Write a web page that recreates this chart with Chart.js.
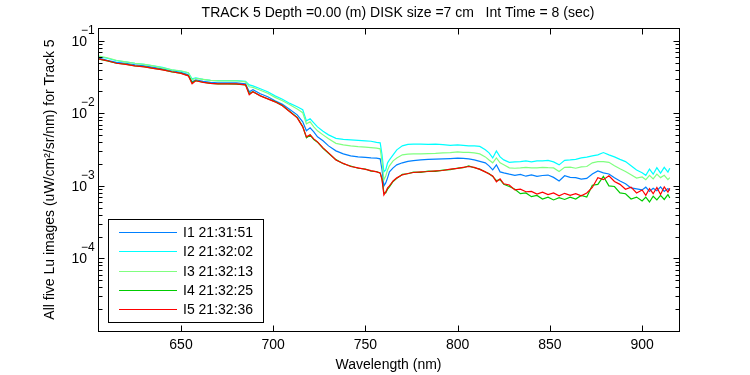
<!DOCTYPE html>
<html>
<head>
<meta charset="utf-8">
<script src="https://cdn.jsdelivr.net/npm/chart.js@4.4.1/dist/chart.umd.min.js"></script>
<style>
  body { margin: 0; background: #fff; }
  canvas { display: block; }
</style>
</head>
<body>
<canvas id="chart" width="750" height="375"></canvas>
<script>
// Wavelength (nm), shared by the five spectra
const WAVELENGTH = [605, 610, 615, 620, 625, 630, 635, 640, 645, 650,
  654, 656, 658, 662, 666, 670,
  675, 680, 685, 687, 689,
  693, 697, 701, 705, 709, 713,
  716, 718, 720, 722, 724, 727, 730,
  734, 738, 742, 746, 750,
  753, 756, 758, 759, 760, 761, 762, 763, 765, 767,
  770, 773, 776, 780, 784, 788, 792, 796, 800,
  803, 806, 809, 812, 815, 817, 819, 821, 823, 825,
  828, 831, 834, 837, 840, 843, 846, 849, 852, 855,
  858, 861, 864, 867, 870, 873, 876, 879, 882, 885,
  888, 891, 894, 897, 900,
  902, 904, 906, 908, 910, 912, 914, 915];

// Lu values, in units of 1e-3 uW/cm2/sr/nm
const I1 = [58.3, 53.9, 50.5, 49.0, 46.7, 45.2, 43.1, 41.1, 38.6, 36.8,
  34.0, 27.2, 29.0, 27.6, 26.7, 26.3,
  26.3, 26.3, 25.5, 19.8, 21.1,
  18.6, 16.9, 14.9, 13.3, 11.3, 9.54,
  7.64, 5.74, 6.31, 5.56, 4.74, 4.18, 3.56,
  3.04, 2.76, 2.59, 2.51, 2.47,
  2.43, 2.41, 2.36, 1.66, 1.00, 1.10, 1.29, 1.56, 1.77, 1.95,
  2.08, 2.18, 2.23, 2.28, 2.32, 2.34, 2.36, 2.38, 2.41,
  2.39, 2.36, 2.28, 2.18, 2.08, 1.89, 1.66, 1.95, 1.56, 1.51,
  1.45, 1.40, 1.44, 1.36, 1.42, 1.35, 1.39, 1.41, 1.31, 1.17,
  1.38, 1.31, 1.30, 1.24, 1.27, 1.46, 1.61, 1.51, 1.46, 1.29,
  1.17, 1.07, 0.938, 0.909, 0.881,
  0.96, 0.84, 0.93, 0.86, 0.97, 0.84, 0.92, 0.86];

const I2 = [61.1, 57.4, 53.0, 51.3, 49.0, 47.4, 45.2, 43.1, 39.8, 38.0,
  36.2, 29.9, 30.9, 29.4, 28.5, 28.3,
  28.3, 28.3, 27.6, 24.7, 23.9,
  21.8, 19.8, 17.4, 15.6, 13.7, 12.3,
  11.2, 7.88, 8.40, 7.40, 6.51, 5.65, 5.05,
  4.52, 4.38, 4.31, 4.25, 4.18,
  4.12, 3.98, 3.92, 2.68, 1.56, 1.66, 2.08, 2.28, 2.68, 3.14,
  3.56, 3.74, 3.76, 3.76, 3.74, 3.76, 3.71, 3.62, 3.68,
  3.62, 3.56, 3.56, 3.50, 3.14, 2.85, 2.43, 3.04, 2.51, 2.28,
  2.11, 2.14, 2.16, 2.21, 2.14, 2.21, 2.21, 2.25, 2.14, 1.95,
  2.25, 2.28, 2.32, 2.43, 2.49, 2.59, 2.68, 2.88, 2.68, 2.51,
  2.32, 2.16, 1.89, 1.66, 1.52,
  1.40, 1.70, 1.45, 1.78, 1.50, 1.80, 1.55, 1.75];

const I3 = [62.1, 58.3, 53.9, 51.3, 49.0, 47.4, 45.2, 42.4, 39.8, 38.6,
  36.2, 29.0, 30.4, 29.4, 28.5, 28.1,
  28.1, 28.1, 27.2, 23.2, 22.8,
  20.8, 18.9, 16.6, 14.9, 13.1, 11.5,
  10.2, 7.16, 7.64, 6.51, 5.74, 5.05, 4.45,
  3.86, 3.68, 3.56, 3.48, 3.42,
  3.36, 3.31, 3.24, 2.14, 1.21, 1.37, 1.66, 1.89, 2.21, 2.43,
  2.68, 2.74, 2.76, 2.76, 2.79, 2.80, 2.85, 2.88, 2.94,
  2.89, 2.89, 2.85, 2.76, 2.51, 2.28, 2.08, 2.43, 2.08, 1.95,
  1.77, 1.75, 1.77, 1.80, 1.77, 1.77, 1.80, 1.78, 1.77, 1.58,
  1.80, 1.81, 1.75, 1.83, 1.85, 2.08, 2.16, 2.16, 2.11, 1.89,
  1.72, 1.58, 1.42, 1.28, 1.33,
  1.22, 1.40, 1.25, 1.45, 1.30, 1.40, 1.22, 1.30];

const I4 = [56.2, 52.8, 49.0, 47.6, 45.0, 44.0, 41.6, 40.0, 37.2, 35.8,
  33.0, 26.5, 28.3, 26.8, 25.8, 25.5,
  25.5, 25.3, 24.6, 18.8, 19.9,
  17.5, 15.9, 14.5, 12.8, 10.6, 8.8,
  6.6, 4.6, 5.0, 4.35, 4.0, 3.3, 2.82,
  2.30, 2.02, 1.88, 1.75, 1.71,
  1.60, 1.58, 1.50, 1.25, 0.80, 0.80, 0.90, 0.97, 1.15, 1.27,
  1.44, 1.47, 1.55, 1.54, 1.60, 1.59, 1.65, 1.68, 1.76,
  1.78, 1.88, 1.78, 1.70, 1.55, 1.48, 1.35, 1.18, 1.22, 1.05,
  0.98, 0.90, 0.78, 0.80, 0.71, 0.74, 0.66, 0.70, 0.64, 0.69,
  0.65, 0.70, 0.66, 0.74, 0.70, 1.02, 1.05, 1.35, 1.00, 0.98,
  0.80, 0.78, 0.66, 0.70, 0.62,
  0.70, 0.60, 0.72, 0.64, 0.74, 0.65, 0.76, 0.68];

const I5 = [56.5, 53.0, 49.0, 47.4, 45.2, 43.8, 41.7, 39.8, 37.4, 35.6,
  32.9, 25.5, 28.1, 26.7, 25.9, 25.5,
  25.4, 25.4, 24.7, 18.0, 19.8,
  17.4, 15.8, 14.4, 12.7, 10.5, 8.67,
  6.51, 4.74, 5.05, 4.45, 4.05, 3.34, 2.85,
  2.28, 2.04, 1.85, 1.77, 1.69,
  1.62, 1.56, 1.51, 1.21, 0.751, 0.826, 0.938, 1.00, 1.17, 1.29,
  1.42, 1.48, 1.53, 1.56, 1.58, 1.61, 1.63, 1.70, 1.74,
  1.80, 1.85, 1.80, 1.69, 1.56, 1.46, 1.37, 1.14, 1.25, 1.07,
  1.03, 0.88, 0.90, 0.83, 0.84, 0.77, 0.82, 0.76, 0.80, 0.73,
  0.79, 0.74, 0.78, 0.73, 0.80, 0.95, 1.30, 1.22, 1.38, 1.15,
  1.05, 0.90, 0.96, 0.80, 0.88,
  0.74, 0.92, 0.78, 0.95, 0.76, 0.97, 0.82, 0.93];

const UNIT = 1e-3;
const LABELS = ['I1 21:31:51', 'I2 21:32:02', 'I3 21:32:13', 'I4 21:32:25', 'I5 21:32:36'];
const COLORS = ['#0080ff', '#00ffff', '#80ff80', '#00cc00', '#ff0000'];

const X_TICKS = [650, 700, 750, 800, 850, 900];
const Y_TICKS = [1e-4, 1e-3, 1e-2, 1e-1];
const Y_TICK_EXP = ['\u22124', '\u22123', '\u22122', '\u22121'];

const TITLE = 'TRACK 5 Depth =0.00 (m) DISK size =7 cm   Int Time = 8 (sec)';
const FONT = '"Liberation Sans", Arial, Helvetica, sans-serif';

function toPoints(values) {
    return WAVELENGTH.map((w, i) => ({x: w, y: values[i] * UNIT}));
}

// axes box, inward ticks, 10^n labels, legend box and title (MATLAB look)
const matlabAxes = {
    id: 'matlabAxes',
    afterDraw(chart) {
        const ctx = chart.ctx;
        const a = chart.chartArea;
        const xs = chart.scales.x;
        const ys = chart.scales.y;
        const L = Math.round(a.left) + 0.5, R = Math.round(a.right) + 0.5;
        const T = Math.round(a.top) + 0.5, B = Math.round(a.bottom) + 0.5;

        ctx.save();
        ctx.strokeStyle = '#000';
        ctx.lineWidth = 1;
        ctx.strokeRect(L, T, R - L, B - T);

        ctx.beginPath();
        X_TICKS.forEach(v => {
            const px = Math.round(xs.getPixelForValue(v)) + 0.5;
            ctx.moveTo(px, B); ctx.lineTo(px, B - 6);
            ctx.moveTo(px, T); ctx.lineTo(px, T + 6);
        });
        for (let d = -5; d <= -1; d++) {
            for (let k = 1; k <= 9; k++) {
                const v = k * Math.pow(10, d);
                if (v > ys.max) break;
                const py = Math.round(ys.getPixelForValue(v)) + 0.5;
                const len = k === 1 ? 6 : 4;
                ctx.moveTo(L, py); ctx.lineTo(L + len, py);
                ctx.moveTo(R, py); ctx.lineTo(R - len, py);
            }
        }
        ctx.stroke();

        // y tick labels as 10 with a raised exponent
        ctx.fillStyle = '#000';
        Y_TICKS.forEach((v, i) => {
            const py = ys.getPixelForValue(v);
            ctx.font = '14px ' + FONT;
            ctx.textAlign = 'right';
            ctx.textBaseline = 'middle';
            ctx.fillText('10', 87, py + 1);
            ctx.font = '12px ' + FONT;
            ctx.textAlign = 'left';
            ctx.textBaseline = 'alphabetic';
            ctx.fillText(Y_TICK_EXP[i], 81, py - 7);
        });

        // legend
        const lx = 108, ly = 219, lw = 155, lh = 103;
        ctx.fillStyle = '#fff';
        ctx.fillRect(lx, ly, lw, lh);
        ctx.strokeStyle = '#000';
        ctx.strokeRect(lx + 0.5, ly + 0.5, lw, lh);
        ctx.font = '14px ' + FONT;
        ctx.textAlign = 'left';
        ctx.textBaseline = 'middle';
        chart.data.datasets.forEach((ds, i) => {
            const y = Math.round(232 + i * 19.3) + 0.5;
            ctx.strokeStyle = ds.borderColor;
            ctx.beginPath();
            ctx.moveTo(119, y); ctx.lineTo(177, y);
            ctx.stroke();
            ctx.fillStyle = '#000';
            ctx.fillText(ds.label, 183, y + 0.5);
        });

        // title
        ctx.textAlign = 'center';
        ctx.fillText(TITLE, 398, 13.5);
        ctx.restore();
    }
};

const datasets = [I1, I2, I3, I4, I5].map((vals, i) => ({
    label: LABELS[i],
    data: toPoints(vals),
    borderColor: COLORS[i],
    borderWidth: 1.2,
    pointRadius: 0,
    tension: 0,
    fill: false,
    order: 5 - i
}));

new Chart(document.getElementById('chart'), {
    type: 'line',
    data: {datasets: datasets},
    options: {
        responsive: false,
        animation: false,
        layout: {padding: {left: 0, right: 71, top: 28, bottom: 0}},
        plugins: {
            legend: {display: false},
            tooltip: {enabled: false}
        },
        scales: {
            x: {
                type: 'linear',
                min: 605,
                max: 920,
                afterFit: s => { s.height = 44; },
                afterBuildTicks: s => { s.ticks = X_TICKS.map(v => ({value: v})); },
                grid: {display: false, drawTicks: false},
                border: {display: false},
                ticks: {color: '#000', padding: 6, font: {family: FONT, size: 14}},
                title: {
                    display: true,
                    text: 'Wavelength (nm)',
                    color: '#000',
                    font: {family: FONT, size: 14},
                    padding: {top: 0, bottom: 1.6}
                }
            },
            y: {
                type: 'logarithmic',
                min: 1e-5,
                max: 0.15,
                afterFit: s => { s.width = 98; },
                grid: {display: false, drawTicks: false},
                border: {display: false},
                ticks: {display: false},
                title: {
                    display: true,
                    text: 'All five Lu images (uW/cm\u00b2/sr/nm) for Track 5',
                    color: '#000',
                    font: {family: FONT, size: 14},
                    padding: {top: 41.6, bottom: 0}
                }
            }
        }
    },
    plugins: [matlabAxes]
});
</script>
</body>
</html>
